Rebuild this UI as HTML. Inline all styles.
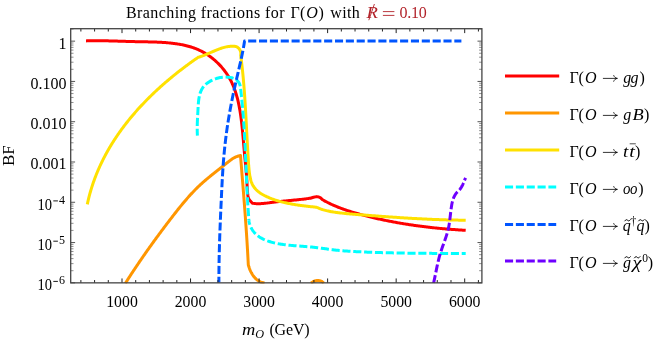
<!DOCTYPE html>
<html><head><meta charset="utf-8"><title>Branching fractions</title>
<style>html,body{margin:0;padding:0;background:#fff;}body{width:664px;height:343px;overflow:hidden;font-family:"Liberation Serif",serif;}</style></head>
<body>
<svg width="664" height="343" viewBox="0 0 664 343" style="display:block;will-change:transform">
<rect width="664" height="343" fill="#fff"/>
<defs><clipPath id="c"><rect x="70.7" y="28.7" width="411.2" height="254.75000000000003"/></clipPath></defs>
<g clip-path="url(#c)" fill="none" stroke-width="3" stroke-linejoin="round" stroke-linecap="butt">
<path d="M86.00 40.90L87.00 40.87L87.99 40.84L88.99 40.81L89.99 40.79L90.99 40.77L91.99 40.75L92.99 40.74L93.99 40.73L94.99 40.72L95.99 40.72L97.00 40.72L98.00 40.72L99.00 40.72L100.01 40.73L101.01 40.74L102.02 40.75L103.02 40.76L104.03 40.78L105.03 40.80L106.04 40.82L107.05 40.84L108.06 40.86L109.06 40.88L110.07 40.91L111.08 40.94L112.09 40.96L113.10 40.99L114.11 41.02L115.12 41.05L116.13 41.08L117.14 41.11L118.15 41.15L119.16 41.18L120.17 41.21L121.18 41.24L122.19 41.28L123.20 41.31L124.21 41.34L125.22 41.37L126.23 41.40L127.24 41.43L128.25 41.46L129.26 41.49L130.28 41.52L131.29 41.55L132.30 41.57L133.31 41.60L134.32 41.62L135.33 41.64L136.34 41.66L137.35 41.68L138.36 41.70L139.37 41.72L140.38 41.73L141.39 41.75L142.40 41.77L143.41 41.78L144.42 41.80L145.43 41.82L146.44 41.84L147.45 41.86L148.45 41.88L149.46 41.90L150.47 41.92L151.48 41.95L152.48 41.98L153.49 42.01L154.50 42.04L155.50 42.08L156.51 42.11L157.51 42.16L158.51 42.20L159.52 42.25L160.52 42.30L161.52 42.36L162.52 42.42L163.53 42.48L164.53 42.55L165.53 42.62L166.53 42.70L167.53 42.79L168.52 42.88L169.52 42.97L170.52 43.07L171.51 43.18L172.51 43.29L173.50 43.41L174.50 43.54L175.49 43.67L176.48 43.81L177.48 43.96L178.47 44.11L179.46 44.27L180.44 44.45L181.43 44.63L182.41 44.82L183.39 45.02L184.37 45.23L185.35 45.45L186.32 45.68L187.29 45.92L188.26 46.18L189.23 46.45L190.19 46.73L191.14 47.02L192.09 47.33L193.04 47.65L193.99 47.98L194.92 48.33L195.86 48.69L196.79 49.07L197.71 49.47L198.63 49.88L199.54 50.30L200.44 50.74L201.34 51.19L202.23 51.66L203.12 52.14L204.00 52.63L204.87 53.14L205.73 53.66L206.59 54.20L207.44 54.74L208.28 55.30L209.11 55.88L209.93 56.46L210.75 57.06L211.55 57.67L212.35 58.29L213.14 58.92L213.92 59.57L214.69 60.23L215.45 60.89L216.20 61.57L216.94 62.26L217.67 62.96L218.38 63.67L219.09 64.39L219.79 65.12L220.48 65.86L221.16 66.61L221.82 67.37L222.47 68.14L223.12 68.91L223.75 69.70L224.37 70.50L224.97 71.30L225.57 72.11L226.15 72.93L226.72 73.76L227.28 74.60L227.82 75.44L228.36 76.29L228.88 77.15L229.38 78.02L229.87 78.89L230.35 79.77L230.82 80.66L231.27 81.55L231.71 82.45L232.14 83.35L232.55 84.26L232.95 85.18L233.34 86.10L233.72 87.03L234.08 87.96L234.44 88.89L234.78 89.84L235.11 90.78L235.43 91.73L235.74 92.69L236.05 93.65L236.34 94.61L236.62 95.57L236.89 96.54L237.16 97.51L237.41 98.49L237.66 99.47L237.90 100.45L238.13 101.43L238.35 102.42L238.56 103.41L238.77 104.40L238.97 105.39L239.17 106.38L239.36 107.38L239.54 108.37L239.72 109.37L239.89 110.37L240.05 111.36L240.21 112.36L240.37 113.36L240.52 114.36L240.66 115.36L240.81 116.36L240.94 117.36L241.08 118.36L241.21 119.36L241.33 120.36L241.46 121.36L241.58 122.36L241.69 123.36L241.81 124.35L241.92 125.35L242.03 126.35L242.13 127.35L242.24 128.35L242.34 129.35L242.44 130.35L242.53 131.35L242.63 132.35L242.72 133.35L242.81 134.35L242.90 135.35L242.99 136.34L243.08 137.34L243.17 138.34L243.26 139.34L243.34 140.34L243.43 141.34L243.51 142.34L243.60 143.34L243.68 144.34L243.77 145.34L243.86 146.34L243.94 147.34L244.03 148.34L244.12 149.34L244.20 150.34L244.29 151.34L244.38 152.34L244.48 153.34L244.57 154.34L244.66 155.34L244.76 156.34L244.86 157.34L244.95 158.34L245.05 159.34L245.15 160.34L245.25 161.34L245.34 162.34L245.44 163.34L245.54 164.34L245.63 165.34L245.73 166.34L245.82 167.34L245.91 168.34L246.01 169.34L246.09 170.34L246.18 171.34L246.27 172.34L246.35 173.34L246.43 174.35L246.51 175.35L246.58 176.35L246.65 177.35L246.72 178.35L246.79 179.35L246.85 180.35L246.91 181.36L246.96 182.36L247.01 183.36L247.05 184.36L247.10 185.36L247.14 186.37L247.19 187.37L247.24 188.37L247.29 189.37L247.36 190.38L247.43 191.38L247.52 192.38L247.62 193.38L247.74 194.39L247.87 195.39L248.03 196.39L248.20 197.40L248.40 198.40L250.60 201.30L252.40 203.20L253.41 203.38L254.41 203.52L255.42 203.61L256.43 203.67L257.44 203.70L258.46 203.71L259.47 203.69L260.48 203.65L261.49 203.59L262.51 203.52L263.52 203.44L264.54 203.34L265.56 203.24L266.57 203.12L267.59 203.00L268.61 202.88L269.63 202.75L270.65 202.61L271.66 202.48L272.68 202.35L273.70 202.22L274.72 202.09L275.75 201.97L276.77 201.85L277.79 201.73L278.81 201.62L279.83 201.51L280.85 201.40L281.87 201.30L282.89 201.19L283.92 201.09L284.94 200.99L285.96 200.89L286.98 200.79L288.00 200.70L289.03 200.60L290.05 200.50L291.07 200.41L292.09 200.31L293.11 200.21L294.13 200.11L295.15 200.01L296.17 199.91L297.19 199.81L298.21 199.70L299.23 199.59L300.25 199.48L301.27 199.37L302.28 199.26L303.30 199.14L304.32 199.02L305.33 198.89L306.35 198.76L307.36 198.63L308.37 198.49L309.39 198.35L310.40 198.20L313.50 197.30L316.70 196.60L318.80 197.00L320.60 197.90L322.70 199.80L323.60 200.31L324.50 200.82L325.40 201.31L326.30 201.79L327.21 202.27L328.12 202.73L329.03 203.18L329.94 203.63L330.85 204.06L331.77 204.49L332.69 204.90L333.61 205.31L334.53 205.71L335.46 206.10L336.38 206.49L337.31 206.87L338.24 207.24L339.17 207.60L340.10 207.96L341.04 208.31L341.98 208.66L342.91 209.00L343.85 209.33L344.80 209.66L345.74 209.99L346.68 210.31L347.63 210.62L348.58 210.93L349.53 211.23L350.48 211.53L351.43 211.83L352.39 212.12L353.34 212.41L354.30 212.69L355.26 212.97L356.22 213.25L357.18 213.52L358.14 213.80L359.10 214.06L360.07 214.33L361.03 214.59L362.00 214.85L362.97 215.11L363.94 215.37L364.91 215.62L365.88 215.87L366.85 216.12L367.83 216.36L368.80 216.61L369.78 216.85L370.76 217.09L371.73 217.32L372.71 217.56L373.69 217.79L374.68 218.02L375.66 218.25L376.64 218.47L377.62 218.70L378.61 218.92L379.60 219.13L380.58 219.35L381.57 219.56L382.56 219.78L383.55 219.98L384.54 220.19L385.53 220.40L386.52 220.60L387.51 220.80L388.51 221.00L389.50 221.19L390.49 221.39L391.49 221.58L392.48 221.77L393.48 221.95L394.48 222.14L395.48 222.32L396.47 222.50L397.47 222.68L398.47 222.86L399.47 223.03L400.47 223.21L401.47 223.38L402.47 223.54L403.48 223.71L404.48 223.87L405.48 224.04L406.48 224.20L407.49 224.35L408.49 224.51L409.49 224.66L410.50 224.82L411.50 224.97L412.51 225.11L413.51 225.26L414.52 225.40L415.52 225.54L416.53 225.68L417.54 225.82L418.54 225.96L419.55 226.09L420.56 226.22L421.56 226.35L422.57 226.48L423.58 226.61L424.58 226.73L425.59 226.86L426.60 226.98L427.60 227.10L428.61 227.21L429.62 227.33L430.62 227.44L431.63 227.55L432.64 227.66L433.65 227.77L434.65 227.87L435.66 227.98L436.66 228.08L437.67 228.18L438.68 228.28L439.68 228.38L440.69 228.47L441.69 228.57L442.70 228.66L443.70 228.75L444.71 228.84L445.71 228.92L446.72 229.01L447.72 229.09L448.72 229.17L449.72 229.25L450.73 229.33L451.73 229.40L452.73 229.48L453.73 229.55L454.73 229.62L455.73 229.69L456.73 229.76L457.73 229.83L458.73 229.89L459.73 229.95L460.72 230.02L461.72 230.08L462.72 230.13L463.71 230.19L464.71 230.25L465.70 230.30" stroke="#ff0000"/>
<path d="M125.30 283.40L125.84 282.54L126.39 281.69L126.93 280.83L127.48 279.98L128.02 279.13L128.57 278.28L129.12 277.43L129.67 276.58L130.22 275.73L130.77 274.88L131.32 274.04L131.88 273.19L132.43 272.35L132.99 271.51L133.54 270.67L134.10 269.83L134.66 268.99L135.22 268.15L135.78 267.31L136.34 266.47L136.90 265.64L137.46 264.80L138.02 263.97L138.59 263.14L139.15 262.30L139.72 261.47L140.29 260.64L140.86 259.81L141.43 258.98L142.00 258.16L142.57 257.33L143.14 256.50L143.71 255.68L144.29 254.85L144.86 254.03L145.44 253.21L146.01 252.38L146.59 251.56L147.17 250.74L147.75 249.92L148.33 249.10L148.91 248.28L149.49 247.46L150.08 246.65L150.66 245.83L151.25 245.01L151.83 244.20L152.42 243.38L153.01 242.57L153.60 241.75L154.19 240.94L154.78 240.13L155.37 239.32L155.96 238.50L156.56 237.69L157.15 236.88L157.75 236.07L158.34 235.26L158.94 234.45L159.54 233.64L160.14 232.84L160.74 232.03L161.34 231.22L161.94 230.41L162.55 229.61L163.15 228.80L163.76 228.00L164.36 227.19L164.97 226.38L165.58 225.58L166.19 224.78L166.80 223.97L167.41 223.17L168.02 222.36L168.63 221.56L169.25 220.76L169.86 219.95L170.48 219.15L171.10 218.35L171.71 217.55L172.33 216.75L172.95 215.94L173.57 215.14L174.20 214.34L174.82 213.54L175.44 212.74L176.07 211.95L176.70 211.15L177.33 210.35L177.96 209.56L178.59 208.76L179.22 207.97L179.86 207.18L180.50 206.39L181.14 205.61L181.78 204.82L182.43 204.04L183.07 203.26L183.72 202.49L184.37 201.71L185.03 200.94L185.69 200.17L186.35 199.40L187.01 198.64L187.67 197.88L188.34 197.12L189.01 196.37L189.69 195.62L190.36 194.87L191.04 194.13L191.73 193.39L192.41 192.66L193.10 191.93L193.80 191.20L194.50 190.48L195.20 189.76L195.90 189.05L196.61 188.34L197.32 187.64L198.04 186.94L198.76 186.25L199.49 185.56L200.21 184.88L200.95 184.21L201.69 183.53L202.43 182.87L203.17 182.21L203.92 181.55L204.67 180.90L205.43 180.25L206.19 179.60L206.95 178.96L207.72 178.32L208.49 177.68L209.26 177.04L210.03 176.41L210.81 175.78L211.59 175.15L212.37 174.52L213.15 173.90L213.94 173.27L214.73 172.64L215.51 172.02L216.31 171.39L217.10 170.77L217.89 170.14L218.69 169.51L219.48 168.89L220.28 168.26L221.08 167.62L221.88 166.99L222.68 166.36L223.48 165.72L224.28 165.08L225.08 164.43L225.88 163.79L226.68 163.14L227.49 162.49L228.29 161.84L229.10 161.21L229.92 160.59L230.74 159.99L231.56 159.40L232.40 158.84L233.24 158.31L234.10 157.82L234.97 157.36L235.85 156.94L236.75 156.57L237.66 156.24L238.59 155.97L239.53 155.75L240.50 155.60L240.58 156.61L240.66 157.62L240.75 158.63L240.83 159.64L240.91 160.65L240.99 161.66L241.07 162.67L241.15 163.68L241.24 164.69L241.32 165.70L241.40 166.71L241.48 167.72L241.56 168.73L241.65 169.74L241.73 170.75L241.81 171.76L241.89 172.77L241.97 173.78L242.06 174.79L242.14 175.80L242.22 176.81L242.30 177.83L242.38 178.84L242.46 179.85L242.54 180.86L242.63 181.87L242.71 182.88L242.79 183.89L242.87 184.90L242.95 185.91L243.03 186.92L243.11 187.93L243.19 188.94L243.27 189.95L243.35 190.96L243.43 191.97L243.51 192.98L243.59 193.99L243.67 195.00L243.75 196.02L243.83 197.03L243.91 198.04L243.99 199.05L244.06 200.06L244.14 201.07L244.22 202.08L244.30 203.09L244.38 204.10L244.45 205.11L244.53 206.12L244.61 207.13L244.68 208.15L244.76 209.16L244.83 210.17L244.91 211.18L244.98 212.19L245.06 213.20L245.13 214.21L245.21 215.22L245.28 216.23L245.36 217.25L245.43 218.26L245.50 219.27L245.57 220.28L245.65 221.29L245.72 222.30L245.79 223.31L245.86 224.32L245.93 225.34L246.00 226.35L246.07 227.36L246.14 228.37L246.21 229.38L246.28 230.39L246.35 231.40L246.41 232.42L246.48 233.43L246.55 234.44L246.61 235.45L246.68 236.46L246.74 237.47L246.81 238.49L246.87 239.50L246.94 240.51L247.00 241.52L247.06 242.53L247.13 243.54L247.19 244.56L247.25 245.57L247.31 246.58L247.37 247.59L247.43 248.60L247.49 249.62L247.55 250.63L247.60 251.64L247.66 252.65L247.72 253.66L247.77 254.68L247.83 255.69L247.88 256.70L247.94 257.71L247.99 258.73L248.04 259.74L248.10 260.75L248.15 261.76L248.20 262.78L248.25 263.79L248.30 264.80L248.57 265.81L248.88 266.82L249.22 267.84L249.59 268.86L249.99 269.87L250.43 270.88L250.91 271.87L251.42 272.85L251.96 273.81L252.54 274.74L253.16 275.64L253.81 276.52L254.50 277.35L255.22 278.15L255.98 278.90L256.78 279.60L257.62 280.25L258.50 280.84L259.42 281.38L260.37 281.85L261.37 282.25L262.41 282.58L263.48 282.83L264.60 283.00" stroke="#ff9600"/>
<path d="M311.00 283.20L311.86 282.52L312.79 281.92L313.77 281.42L314.80 281.02L315.87 280.74L316.94 280.57L318.02 280.52L319.09 280.60L320.14 280.82L321.14 281.18L322.10 281.69L322.99 282.37L323.80 283.20" stroke="#ff9600"/>
<path d="M87.30 204.40L87.51 203.39L87.73 202.39L87.95 201.39L88.18 200.39L88.41 199.40L88.65 198.40L88.90 197.41L89.15 196.42L89.41 195.43L89.67 194.45L89.94 193.47L90.21 192.49L90.49 191.51L90.77 190.53L91.06 189.56L91.36 188.59L91.66 187.62L91.96 186.66L92.27 185.69L92.59 184.73L92.91 183.77L93.24 182.82L93.57 181.86L93.90 180.91L94.25 179.96L94.59 179.01L94.95 178.07L95.30 177.13L95.66 176.19L96.03 175.25L96.40 174.31L96.78 173.38L97.16 172.45L97.55 171.52L97.94 170.60L98.34 169.67L98.74 168.75L99.15 167.83L99.56 166.92L99.97 166.00L100.39 165.09L100.82 164.18L101.25 163.27L101.68 162.37L102.12 161.47L102.57 160.57L103.01 159.67L103.47 158.77L103.92 157.88L104.39 156.99L104.85 156.10L105.32 155.21L105.80 154.33L106.28 153.45L106.76 152.57L107.25 151.69L107.74 150.82L108.24 149.95L108.74 149.08L109.24 148.21L109.75 147.35L110.26 146.48L110.78 145.62L111.30 144.77L111.83 143.91L112.36 143.06L112.89 142.21L113.43 141.36L113.97 140.51L114.52 139.67L115.07 138.83L115.62 137.99L116.18 137.15L116.74 136.32L117.30 135.49L117.87 134.66L118.44 133.83L119.02 133.00L119.60 132.18L120.18 131.36L120.77 130.54L121.36 129.73L121.95 128.92L122.55 128.11L123.15 127.30L123.76 126.49L124.37 125.69L124.98 124.89L125.59 124.09L126.21 123.29L126.83 122.50L127.46 121.71L128.09 120.92L128.72 120.13L129.35 119.34L129.99 118.56L130.63 117.78L131.28 117.01L131.93 116.23L132.58 115.46L133.23 114.69L133.89 113.92L134.55 113.15L135.21 112.39L135.88 111.63L136.55 110.87L137.22 110.11L137.90 109.36L138.57 108.61L139.26 107.86L139.94 107.11L140.63 106.37L141.32 105.63L142.01 104.89L142.70 104.15L143.40 103.41L144.10 102.68L144.80 101.95L145.51 101.22L146.22 100.50L146.93 99.77L147.64 99.05L148.36 98.34L149.08 97.62L149.80 96.91L150.52 96.19L151.25 95.49L151.97 94.78L152.70 94.07L153.44 93.37L154.17 92.67L154.91 91.98L155.65 91.28L156.39 90.59L157.14 89.90L157.88 89.21L158.63 88.53L159.38 87.84L160.13 87.16L160.89 86.49L161.64 85.81L162.40 85.14L163.16 84.47L163.93 83.80L164.69 83.13L165.46 82.47L166.23 81.81L167.00 81.15L167.77 80.49L168.54 79.84L169.32 79.18L170.10 78.53L170.87 77.89L171.66 77.24L172.44 76.60L173.22 75.96L174.01 75.32L174.80 74.69L175.58 74.05L176.37 73.42L177.17 72.80L177.96 72.17L178.75 71.55L179.55 70.93L180.35 70.31L181.15 69.69L181.95 69.08L182.75 68.47L183.55 67.86L184.36 67.25L185.16 66.65L185.97 66.04L186.78 65.44L187.59 64.85L188.40 64.25L189.21 63.66L190.02 63.07L190.84 62.48L191.65 61.90L192.47 61.31L193.28 60.73L194.10 60.15L194.92 59.58L195.74 59.01L196.56 58.43L197.38 57.87L198.20 57.30L199.18 57.02L200.16 56.71L201.14 56.39L202.11 56.05L203.08 55.69L204.05 55.33L205.01 54.94L205.97 54.55L206.93 54.15L207.88 53.75L208.84 53.33L209.79 52.92L210.75 52.50L211.70 52.08L212.65 51.66L213.61 51.25L214.56 50.84L215.52 50.43L216.48 50.04L217.44 49.65L218.41 49.28L219.37 48.91L220.35 48.57L221.32 48.24L222.30 47.93L223.28 47.63L224.27 47.36L225.26 47.11L226.26 46.89L227.27 46.69L228.28 46.53L229.29 46.39L230.32 46.28L231.35 46.21L232.39 46.17L233.44 46.16L234.50 46.20L235.65 46.42L236.70 46.82L237.66 47.38L238.51 48.08L239.25 48.90L239.85 49.82L240.33 50.83L240.66 51.90L240.84 53.02L240.85 54.16L240.70 55.30L240.83 56.30L240.96 57.30L241.09 58.30L241.22 59.30L241.35 60.30L241.47 61.30L241.59 62.31L241.71 63.31L241.82 64.31L241.94 65.31L242.05 66.31L242.16 67.32L242.27 68.32L242.38 69.32L242.49 70.33L242.59 71.33L242.69 72.33L242.79 73.34L242.89 74.34L242.99 75.34L243.08 76.35L243.18 77.35L243.27 78.36L243.36 79.36L243.45 80.37L243.54 81.37L243.62 82.38L243.71 83.38L243.79 84.39L243.88 85.39L243.96 86.40L244.04 87.40L244.11 88.41L244.19 89.42L244.27 90.42L244.34 91.43L244.42 92.44L244.49 93.44L244.56 94.45L244.63 95.46L244.70 96.46L244.77 97.47L244.84 98.48L244.90 99.48L244.97 100.49L245.03 101.50L245.10 102.50L245.16 103.51L245.22 104.52L245.28 105.53L245.34 106.54L245.40 107.54L245.46 108.55L245.52 109.56L245.58 110.57L245.64 111.57L245.70 112.58L245.75 113.59L245.81 114.60L245.86 115.61L245.92 116.61L245.97 117.62L246.03 118.63L246.08 119.64L246.14 120.65L246.19 121.66L246.24 122.66L246.30 123.67L246.35 124.68L246.40 125.69L246.45 126.70L246.51 127.71L246.56 128.72L246.61 129.72L246.66 130.73L246.71 131.74L246.77 132.75L246.82 133.76L246.87 134.77L246.92 135.77L246.98 136.78L247.03 137.79L247.08 138.80L247.13 139.81L247.19 140.82L247.24 141.82L247.30 142.83L247.35 143.84L247.41 144.85L247.46 145.86L247.52 146.86L247.57 147.87L247.63 148.88L247.69 149.89L247.74 150.89L247.80 151.90L247.86 152.91L247.92 153.92L247.98 154.92L248.04 155.93L248.11 156.94L248.17 157.95L248.23 158.95L248.30 159.96L248.36 160.97L248.43 161.97L248.49 162.98L248.56 163.99L248.63 164.99L248.70 166.00L248.80 166.92L248.89 167.87L248.99 168.85L249.08 169.85L249.18 170.87L249.29 171.90L249.41 172.94L249.54 173.99L249.69 175.05L249.86 176.10L250.05 177.15L250.27 178.20L250.52 179.24L250.79 180.26L251.10 181.26L251.44 182.25L251.82 183.21L252.23 184.14L252.68 185.04L253.18 185.91L253.71 186.74L254.29 187.54L254.90 188.31L255.54 189.04L256.22 189.75L256.92 190.43L257.66 191.08L258.42 191.71L259.21 192.31L260.02 192.89L260.85 193.45L261.69 193.98L262.56 194.50L263.44 194.99L264.33 195.47L265.24 195.93L266.15 196.38L267.07 196.81L267.99 197.23L268.93 197.64L269.86 198.03L270.81 198.41L271.75 198.78L272.71 199.14L273.66 199.48L274.62 199.82L275.59 200.14L276.56 200.45L277.53 200.75L278.51 201.04L279.49 201.32L280.48 201.60L281.47 201.86L282.46 202.11L283.45 202.36L284.45 202.59L285.45 202.82L286.45 203.04L287.46 203.25L288.46 203.46L289.47 203.65L290.48 203.84L291.49 204.03L292.51 204.20L293.52 204.38L294.53 204.54L295.55 204.70L296.56 204.86L297.58 205.01L298.60 205.15L299.61 205.29L300.63 205.43L301.64 205.57L302.66 205.69L303.67 205.82L304.68 205.95L305.70 206.07L306.71 206.18L307.72 206.30L308.72 206.42L309.73 206.53L310.73 206.64L311.73 206.75L312.73 206.86L313.73 206.97L314.72 207.08L315.71 207.19L316.70 207.30L317.66 207.74L318.63 208.15L319.59 208.54L320.56 208.91L321.53 209.25L322.49 209.57L323.46 209.87L324.43 210.15L325.41 210.41L326.38 210.65L327.35 210.88L328.33 211.09L329.30 211.29L330.28 211.48L331.26 211.66L332.23 211.82L333.21 211.98L334.19 212.13L335.18 212.27L336.16 212.40L337.14 212.53L338.12 212.66L339.11 212.78L340.09 212.90L341.08 213.02L342.07 213.13L343.05 213.24L344.04 213.34L345.03 213.44L346.02 213.54L347.01 213.64L348.00 213.73L349.00 213.82L349.99 213.91L350.98 214.00L351.98 214.08L352.97 214.17L353.97 214.25L354.96 214.33L355.96 214.41L356.96 214.49L357.95 214.57L358.95 214.64L359.95 214.72L360.95 214.80L361.95 214.87L362.95 214.95L363.95 215.03L364.95 215.10L365.96 215.18L366.96 215.26L367.96 215.33L368.96 215.41L369.97 215.49L370.97 215.56L371.98 215.64L372.98 215.71L373.99 215.79L374.99 215.86L376.00 215.94L377.01 216.01L378.01 216.09L379.02 216.16L380.03 216.23L381.04 216.31L382.04 216.38L383.05 216.45L384.06 216.53L385.07 216.60L386.08 216.67L387.09 216.74L388.10 216.81L389.11 216.88L390.12 216.95L391.13 217.02L392.14 217.09L393.15 217.16L394.16 217.23L395.17 217.30L396.18 217.37L397.19 217.43L398.21 217.50L399.22 217.57L400.23 217.63L401.24 217.70L402.25 217.76L403.26 217.83L404.28 217.89L405.29 217.95L406.30 218.01L407.31 218.08L408.33 218.14L409.34 218.20L410.35 218.26L411.36 218.32L412.37 218.38L413.39 218.43L414.40 218.49L415.41 218.55L416.42 218.60L417.43 218.66L418.45 218.71L419.46 218.76L420.47 218.82L421.48 218.87L422.49 218.92L423.50 218.97L424.51 219.02L425.53 219.07L426.54 219.12L427.55 219.16L428.56 219.21L429.57 219.26L430.58 219.30L431.59 219.34L432.60 219.39L433.61 219.43L434.61 219.47L435.62 219.51L436.63 219.55L437.64 219.58L438.65 219.62L439.65 219.66L440.66 219.69L441.67 219.73L442.67 219.76L443.68 219.79L444.69 219.82L445.69 219.85L446.70 219.88L447.70 219.91L448.70 219.93L449.71 219.96L450.71 219.98L451.71 220.01L452.72 220.03L453.72 220.05L454.72 220.07L455.72 220.09L456.72 220.10L457.72 220.12L458.72 220.13L459.72 220.15L460.72 220.16L461.72 220.17L462.71 220.18L463.71 220.19L464.70 220.19L465.70 220.20" stroke="#ffe100"/>
<path d="M197.40 135.60L197.35 134.54L197.31 133.49L197.27 132.45L197.25 131.43L197.23 130.41L197.22 129.40L197.22 128.39L197.23 127.39L197.24 126.40L197.25 125.41L197.28 124.43L197.30 123.45L197.34 122.47L197.37 121.50L197.41 120.52L197.46 119.55L197.50 118.57L197.55 117.59L197.60 116.61L197.66 115.63L197.71 114.64L197.77 113.65L197.82 112.65L197.88 111.65L197.93 110.64L197.99 109.62L198.04 108.59L198.09 107.56L198.15 106.52L198.21 105.47L198.28 104.43L198.36 103.38L198.45 102.34L198.55 101.30L198.67 100.26L198.81 99.23L198.96 98.21L199.14 97.19L199.34 96.19L199.57 95.21L199.83 94.23L200.11 93.28L200.43 92.34L200.79 91.42L201.18 90.53L201.61 89.65L202.08 88.81L202.60 87.99L203.16 87.20L203.76 86.43L204.41 85.70L205.09 85.00L205.82 84.33L206.57 83.68L207.36 83.07L208.18 82.48L209.02 81.93L209.88 81.40L210.77 80.90L211.67 80.44L212.59 80.00L213.52 79.59L214.46 79.21L215.40 78.87L216.35 78.55L217.30 78.26L218.27 78.00L219.23 77.77L220.21 77.58L221.20 77.42L222.20 77.29L223.21 77.19L224.23 77.13L225.26 77.11L226.31 77.12L227.38 77.17L228.45 77.25L229.53 77.38L230.60 77.56L231.65 77.79L232.67 78.07L233.66 78.41L234.60 78.81L235.50 79.28L236.33 79.82L237.09 80.43L237.78 81.10L238.39 81.84L238.92 82.64L239.37 83.48L239.74 84.36L240.02 85.27L240.23 86.21L240.40 87.18L240.53 88.15L240.65 89.13L240.76 90.11L240.88 91.09L240.99 92.08L241.10 93.06L241.21 94.05L241.32 95.03L241.42 96.02L241.53 97.01L241.63 98.00L241.73 99.00L241.83 99.99L241.93 100.98L242.02 101.98L242.12 102.97L242.21 103.97L242.30 104.97L242.39 105.97L242.48 106.97L242.57 107.97L242.65 108.97L242.74 109.97L242.82 110.97L242.90 111.97L242.98 112.98L243.06 113.98L243.14 114.99L243.22 115.99L243.29 117.00L243.36 118.01L243.44 119.01L243.51 120.02L243.58 121.03L243.65 122.04L243.72 123.04L243.79 124.05L243.85 125.06L243.92 126.07L243.98 127.08L244.04 128.09L244.11 129.10L244.17 130.11L244.23 131.12L244.29 132.13L244.35 133.14L244.41 134.15L244.46 135.16L244.52 136.17L244.58 137.18L244.63 138.19L244.68 139.20L244.74 140.21L244.79 141.22L244.84 142.23L244.90 143.24L244.95 144.25L245.00 145.26L245.05 146.27L245.10 147.27L245.15 148.28L245.19 149.29L245.24 150.29L245.29 151.30L245.34 152.30L245.39 153.31L245.43 154.31L245.48 155.32L245.52 156.32L245.57 157.33L245.62 158.33L245.66 159.33L245.71 160.34L245.75 161.34L245.79 162.34L245.84 163.34L245.88 164.35L245.93 165.35L245.97 166.35L246.02 167.35L246.06 168.35L246.10 169.35L246.15 170.35L246.19 171.35L246.24 172.36L246.28 173.36L246.33 174.36L246.37 175.36L246.42 176.36L246.46 177.36L246.51 178.36L246.55 179.36L246.60 180.36L246.64 181.36L246.69 182.36L246.73 183.36L246.78 184.36L246.83 185.36L246.88 186.36L246.92 187.36L246.97 188.36L247.02 189.36L247.07 190.36L247.12 191.36L247.17 192.36L247.22 193.36L247.28 194.37L247.33 195.37L247.38 196.37L247.43 197.37L247.49 198.37L247.54 199.37L247.60 200.38L247.66 201.38L247.71 202.38L247.77 203.39L247.83 204.39L247.89 205.39L247.95 206.40L248.01 207.40L248.07 208.41L248.14 209.41L248.20 210.42L248.27 211.43L248.33 212.43L248.40 213.44L248.47 214.45L248.54 215.45L248.61 216.46L248.68 217.47L248.75 218.48L248.82 219.49L248.90 220.50" stroke="#00ffff" stroke-dasharray="8.1 2.75" stroke-dashoffset="1.2"/>
<path d="M248.90 220.50L249.07 221.58L249.28 222.63L249.54 223.65L249.83 224.65L250.18 225.62L250.56 226.56L250.98 227.48L251.43 228.37L251.93 229.23L252.46 230.06L253.02 230.87L253.61 231.65L254.24 232.40L254.89 233.12L255.58 233.82L256.29 234.49L257.02 235.13L257.78 235.74L258.56 236.33L259.37 236.89L260.19 237.42L261.04 237.93L261.90 238.41L262.78 238.87L263.67 239.31L264.58 239.72L265.50 240.12L266.43 240.49L267.37 240.85L268.32 241.18L269.28 241.50L270.24 241.80L271.21 242.09L272.18 242.36L273.15 242.61L274.13 242.85L275.10 243.08L276.08 243.29L277.06 243.50L278.04 243.69L279.03 243.87L280.01 244.04L280.99 244.20L281.98 244.35L282.97 244.49L283.96 244.62L284.95 244.75L285.94 244.87L286.94 244.98L287.93 245.09L288.93 245.19L289.92 245.29L290.92 245.38L291.92 245.47L292.92 245.56L293.92 245.64L294.92 245.72L295.92 245.80L296.92 245.88L297.92 245.96L298.93 246.03L299.93 246.11L300.94 246.19L301.94 246.26L302.95 246.34L303.95 246.41L304.96 246.49L305.97 246.57L306.97 246.65L307.98 246.74L308.99 246.83L309.99 246.91L311.00 247.01L312.01 247.10L313.02 247.20L314.02 247.31L315.03 247.42L316.04 247.53L317.04 247.65L318.05 247.78L319.06 247.90L320.06 248.04L321.07 248.17L322.07 248.31L323.08 248.44L324.09 248.58L325.09 248.72L326.10 248.86L327.10 249.00L328.11 249.14L329.11 249.28L330.11 249.41L331.12 249.54L332.12 249.67L333.13 249.80L334.13 249.92L335.14 250.04L336.14 250.15L337.14 250.25L338.15 250.36L339.15 250.46L340.15 250.55L341.16 250.64L342.16 250.73L343.16 250.81L344.16 250.89L345.17 250.97L346.17 251.04L347.17 251.11L348.17 251.18L349.18 251.24L350.18 251.30L351.18 251.36L352.18 251.42L353.19 251.48L354.19 251.53L355.19 251.58L356.19 251.63L357.19 251.68L358.19 251.73L359.20 251.78L360.20 251.83L361.20 251.87L362.20 251.92L363.20 251.96L364.20 252.00L365.20 252.05L366.21 252.09L367.21 252.13L368.21 252.17L369.21 252.20L370.21 252.24L371.21 252.28L372.21 252.31L373.21 252.35L374.22 252.38L375.22 252.42L376.22 252.45L377.22 252.48L378.22 252.51L379.22 252.54L380.22 252.57L381.22 252.60L382.22 252.63L383.23 252.66L384.23 252.68L385.23 252.71L386.23 252.74L387.23 252.76L388.23 252.78L389.23 252.81L390.24 252.83L391.24 252.85L392.24 252.87L393.24 252.90L394.24 252.92L395.24 252.94L396.24 252.96L397.25 252.97L398.25 252.99L399.25 253.01L400.25 253.03L401.25 253.04L402.26 253.06L403.26 253.08L404.26 253.09L405.26 253.11L406.27 253.12L407.27 253.13L408.27 253.15L409.28 253.16L410.28 253.17L411.28 253.19L412.28 253.20L413.29 253.21L414.29 253.22L415.29 253.23L416.30 253.24L417.30 253.25L418.31 253.26L419.31 253.27L420.31 253.28L421.32 253.29L422.32 253.30L423.33 253.31L424.33 253.32L425.34 253.33L426.34 253.33L427.35 253.34L428.35 253.35L429.36 253.36L430.36 253.36L431.37 253.37L432.38 253.38L433.38 253.38L434.39 253.39L435.40 253.40L436.40 253.40L437.41 253.41L438.42 253.42L439.43 253.42L440.43 253.43L441.44 253.44L442.45 253.44L443.46 253.45L444.47 253.45L445.47 253.46L446.48 253.47L447.49 253.47L448.50 253.48L449.51 253.48L450.52 253.49L451.53 253.50L452.54 253.50L453.55 253.51L454.56 253.52L455.57 253.52L456.59 253.53L457.60 253.54L458.61 253.54L459.62 253.55L460.63 253.56L461.65 253.57L462.66 253.57L463.67 253.58L464.69 253.59L465.70 253.60" stroke="#00ffff" stroke-dasharray="8.1 2.75" stroke-dashoffset="3.64"/>
<path d="M218.90 282.60L218.90 281.59L218.90 280.58L218.90 279.57L218.90 278.56L218.91 277.55L218.91 276.55L218.92 275.54L218.92 274.53L218.93 273.52L218.94 272.51L218.94 271.50L218.95 270.49L218.97 269.48L218.98 268.47L218.99 267.46L219.00 266.46L219.02 265.45L219.03 264.44L219.05 263.43L219.06 262.42L219.08 261.41L219.10 260.40L219.12 259.39L219.14 258.39L219.16 257.38L219.18 256.37L219.20 255.36L219.23 254.35L219.25 253.34L219.27 252.33L219.30 251.32L219.33 250.32L219.35 249.31L219.38 248.30L219.41 247.29L219.44 246.28L219.46 245.27L219.49 244.27L219.52 243.26L219.56 242.25L219.59 241.24L219.62 240.23L219.65 239.23L219.69 238.22L219.72 237.21L219.75 236.20L219.79 235.19L219.82 234.19L219.86 233.18L219.90 232.17L219.93 231.16L219.97 230.16L220.01 229.15L220.05 228.14L220.09 227.13L220.13 226.13L220.17 225.12L220.21 224.11L220.25 223.10L220.29 222.10L220.33 221.09L220.37 220.08L220.41 219.08L220.46 218.07L220.50 217.06L220.54 216.06L220.59 215.05L220.63 214.04L220.67 213.04L220.72 212.03L220.76 211.02L220.81 210.02L220.85 209.01L220.90 208.00L220.94 207.00L220.99 205.99L221.04 204.99L221.08 203.98L221.13 202.97L221.18 201.97L221.22 200.96L221.27 199.96L221.32 198.95L221.36 197.95L221.41 196.94L221.46 195.94L221.51 194.93L221.56 193.93L221.60 192.92L221.65 191.92L221.70 190.91L221.75 189.91L221.80 188.90L221.85 187.90L221.90 186.89L221.94 185.89L221.99 184.89L222.05 183.88L222.10 182.88L222.15 181.87L222.20 180.87L222.25 179.87L222.31 178.86L222.36 177.86L222.42 176.86L222.48 175.85L222.54 174.85L222.60 173.85L222.66 172.85L222.72 171.84L222.78 170.84L222.84 169.84L222.91 168.84L222.98 167.83L223.05 166.83L223.12 165.83L223.19 164.83L223.26 163.83L223.34 162.82L223.42 161.82L223.49 160.82L223.57 159.82L223.66 158.82L223.74 157.82L223.83 156.82L223.91 155.82L224.00 154.82L224.09 153.82L224.19 152.82L224.28 151.82L224.38 150.82L224.48 149.82L224.58 148.82L224.68 147.82L224.79 146.82L224.89 145.82L225.00 144.82L225.11 143.82L225.22 142.82L225.34 141.82L225.45 140.82L225.57 139.82L225.69 138.83L225.82 137.83L225.94 136.83L226.07 135.83L226.20 134.83L226.33 133.84L226.46 132.84L226.59 131.84L226.73 130.85L226.87 129.85L227.01 128.85L227.16 127.85L227.30 126.86L227.45 125.86L227.60 124.87L227.75 123.87L227.91 122.87L228.06 121.88L228.22 120.88L228.38 119.89L228.54 118.89L228.71 117.90L228.88 116.90L229.05 115.91L229.22 114.91L229.39 113.92L229.56 112.93L229.74 111.93L229.92 110.94L230.10 109.94L230.28 108.95L230.47 107.96L230.66 106.96L230.84 105.97L231.03 104.98L231.23 103.99L231.42 102.99L231.61 102.00L231.81 101.01L232.01 100.02L232.21 99.03L232.41 98.04L232.61 97.04L232.82 96.05L233.03 95.06L233.23 94.07L233.44 93.08L233.65 92.09L233.87 91.10L234.08 90.11L234.29 89.12L234.51 88.13L234.73 87.14L234.95 86.16L235.17 85.17L235.39 84.18L235.61 83.19L235.83 82.20L236.06 81.21L236.28 80.23L236.51 79.24L236.74 78.25L236.97 77.26L237.20 76.28L237.43 75.29L237.66 74.30L237.89 73.32L238.12 72.33L238.35 71.35L238.58 70.36L238.81 69.37L239.04 68.39L239.26 67.40L239.49 66.42L239.72 65.44L239.94 64.45L240.17 63.47L240.39 62.48L240.61 61.50L240.83 60.52L241.05 59.53L241.26 58.55L241.47 57.57L241.68 56.59L241.89 55.60L242.10 54.62L242.30 53.64L242.50 52.66L242.69 51.68L242.89 50.70L243.08 49.72L243.26 48.74L243.44 47.75L243.62 46.77L243.80 45.80L243.97 44.82L244.13 43.84L244.29 42.86L244.45 41.88L244.60 40.90L300.00 40.90L461.40 40.90" stroke="#0055ff" stroke-dasharray="8.1 2.75" stroke-dashoffset="2.2"/>
<path d="M433.60 283.00L433.83 281.97L434.06 280.94L434.28 279.91L434.50 278.89L434.71 277.87L434.92 276.86L435.13 275.85L435.34 274.84L435.54 273.84L435.74 272.84L435.95 271.84L436.15 270.85L436.35 269.86L436.55 268.87L436.76 267.89L436.96 266.90L437.17 265.92L437.39 264.95L437.60 263.97L437.82 263.00L438.04 262.02L438.27 261.05L438.51 260.08L438.75 259.11L438.99 258.15L439.25 257.18L439.51 256.22L439.78 255.25L440.06 254.29L440.34 253.32L440.64 252.36L440.95 251.40L441.26 250.44L441.59 249.47L441.92 248.51L442.26 247.54L442.60 246.58L442.94 245.61L443.29 244.65L443.64 243.68L443.99 242.71L444.34 241.74L444.69 240.77L445.03 239.80L445.37 238.82L445.70 237.85L446.03 236.87L446.35 235.89L446.66 234.90L446.96 233.92L447.25 232.93L447.53 231.94L447.79 230.94L448.04 229.95L448.28 228.95L448.49 227.94L448.70 226.94L448.89 225.93L449.06 224.91L449.23 223.90L449.39 222.89L449.53 221.87L449.67 220.85L449.80 219.84L449.93 218.82L450.05 217.80L450.17 216.78L450.29 215.76L450.40 214.75L450.52 213.73L450.64 212.72L450.75 211.71L450.88 210.70L451.00 209.69L451.14 208.69L451.28 207.69L451.42 206.69L451.58 205.69L451.75 204.70L451.93 203.72L452.14 202.75L452.36 201.78L452.61 200.82L452.89 199.88L453.20 198.94L453.55 198.03L453.93 197.12L454.36 196.23L454.83 195.37L455.35 194.52L455.92 193.69L456.55 192.88L457.24 192.09L457.99 191.33L458.80 190.60L459.58 189.77L460.28 188.89L460.92 187.98L461.50 187.02L462.04 186.04L462.53 185.04L463.00 184.02L463.44 182.98L463.86 181.94L464.29 180.89L464.71 179.85L465.14 178.82L465.60 177.80" stroke="#6e00ff" stroke-dasharray="8.1 2.75"/>
</g>
<g fill="none">
<path d="M80.88 282.85v-2.8M80.88 28.7v2.8M94.58 282.85v-2.8M94.58 28.7v2.8M108.29 282.85v-2.8M108.29 28.7v2.8M122.00 282.85v-4.4M122.00 28.7v4.4M135.71 282.85v-2.8M135.71 28.7v2.8M149.42 282.85v-2.8M149.42 28.7v2.8M163.12 282.85v-2.8M163.12 28.7v2.8M176.83 282.85v-2.8M176.83 28.7v2.8M190.54 282.85v-4.4M190.54 28.7v4.4M204.25 282.85v-2.8M204.25 28.7v2.8M217.96 282.85v-2.8M217.96 28.7v2.8M231.66 282.85v-2.8M231.66 28.7v2.8M245.37 282.85v-2.8M245.37 28.7v2.8M259.08 282.85v-4.4M259.08 28.7v4.4M272.79 282.85v-2.8M272.79 28.7v2.8M286.50 282.85v-2.8M286.50 28.7v2.8M300.20 282.85v-2.8M300.20 28.7v2.8M313.91 282.85v-2.8M313.91 28.7v2.8M327.62 282.85v-4.4M327.62 28.7v4.4M341.33 282.85v-2.8M341.33 28.7v2.8M355.04 282.85v-2.8M355.04 28.7v2.8M368.74 282.85v-2.8M368.74 28.7v2.8M382.45 282.85v-2.8M382.45 28.7v2.8M396.16 282.85v-4.4M396.16 28.7v4.4M409.87 282.85v-2.8M409.87 28.7v2.8M423.58 282.85v-2.8M423.58 28.7v2.8M437.28 282.85v-2.8M437.28 28.7v2.8M450.99 282.85v-2.8M450.99 28.7v2.8M464.70 282.85v-4.4M464.70 28.7v4.4M478.41 282.85v-2.8M478.41 28.7v2.8" stroke="#222" stroke-width="1"/>
<path d="M70.7 282.83h4.4M481.9 282.83h-4.4M70.7 242.55h4.4M481.9 242.55h-4.4M70.7 202.27h4.4M481.9 202.27h-4.4M70.7 161.99h4.4M481.9 161.99h-4.4M70.7 121.71h4.4M481.9 121.71h-4.4M70.7 81.43h4.4M481.9 81.43h-4.4M70.7 41.15h4.4M481.9 41.15h-4.4" stroke="#2a2a2a" stroke-width="0.8"/>
<path d="M70.7 270.70h2.8M481.9 270.70h-2.8M70.7 263.61h2.8M481.9 263.61h-2.8M70.7 258.58h2.8M481.9 258.58h-2.8M70.7 254.68h2.8M481.9 254.68h-2.8M70.7 251.49h2.8M481.9 251.49h-2.8M70.7 248.79h2.8M481.9 248.79h-2.8M70.7 246.45h2.8M481.9 246.45h-2.8M70.7 244.39h2.8M481.9 244.39h-2.8M70.7 230.42h2.8M481.9 230.42h-2.8M70.7 223.33h2.8M481.9 223.33h-2.8M70.7 218.30h2.8M481.9 218.30h-2.8M70.7 214.40h2.8M481.9 214.40h-2.8M70.7 211.21h2.8M481.9 211.21h-2.8M70.7 208.51h2.8M481.9 208.51h-2.8M70.7 206.17h2.8M481.9 206.17h-2.8M70.7 204.11h2.8M481.9 204.11h-2.8M70.7 190.14h2.8M481.9 190.14h-2.8M70.7 183.05h2.8M481.9 183.05h-2.8M70.7 178.02h2.8M481.9 178.02h-2.8M70.7 174.12h2.8M481.9 174.12h-2.8M70.7 170.93h2.8M481.9 170.93h-2.8M70.7 168.23h2.8M481.9 168.23h-2.8M70.7 165.89h2.8M481.9 165.89h-2.8M70.7 163.83h2.8M481.9 163.83h-2.8M70.7 149.86h2.8M481.9 149.86h-2.8M70.7 142.77h2.8M481.9 142.77h-2.8M70.7 137.74h2.8M481.9 137.74h-2.8M70.7 133.84h2.8M481.9 133.84h-2.8M70.7 130.65h2.8M481.9 130.65h-2.8M70.7 127.95h2.8M481.9 127.95h-2.8M70.7 125.61h2.8M481.9 125.61h-2.8M70.7 123.55h2.8M481.9 123.55h-2.8M70.7 109.58h2.8M481.9 109.58h-2.8M70.7 102.49h2.8M481.9 102.49h-2.8M70.7 97.46h2.8M481.9 97.46h-2.8M70.7 93.56h2.8M481.9 93.56h-2.8M70.7 90.37h2.8M481.9 90.37h-2.8M70.7 87.67h2.8M481.9 87.67h-2.8M70.7 85.33h2.8M481.9 85.33h-2.8M70.7 83.27h2.8M481.9 83.27h-2.8M70.7 69.30h2.8M481.9 69.30h-2.8M70.7 62.21h2.8M481.9 62.21h-2.8M70.7 57.18h2.8M481.9 57.18h-2.8M70.7 53.28h2.8M481.9 53.28h-2.8M70.7 50.09h2.8M481.9 50.09h-2.8M70.7 47.39h2.8M481.9 47.39h-2.8M70.7 45.05h2.8M481.9 45.05h-2.8M70.7 42.99h2.8M481.9 42.99h-2.8M70.7 29.02h2.8M481.9 29.02h-2.8" stroke="#444" stroke-width="0.6"/>
<rect x="70.7" y="28.7" width="411.20" height="254.15" stroke="#444" stroke-width="1.3"/>
</g>
<g font-family="'Liberation Serif', serif" font-size="16" fill="#000">
<text x="122.0" y="306.7" text-anchor="middle" textLength="31.6" lengthAdjust="spacingAndGlyphs">1000</text>
<text x="190.5" y="306.7" text-anchor="middle" textLength="31.6" lengthAdjust="spacingAndGlyphs">2000</text>
<text x="259.1" y="306.7" text-anchor="middle" textLength="31.6" lengthAdjust="spacingAndGlyphs">3000</text>
<text x="327.6" y="306.7" text-anchor="middle" textLength="31.6" lengthAdjust="spacingAndGlyphs">4000</text>
<text x="396.2" y="306.7" text-anchor="middle" textLength="31.6" lengthAdjust="spacingAndGlyphs">5000</text>
<text x="464.7" y="306.7" text-anchor="middle" textLength="31.6" lengthAdjust="spacingAndGlyphs">6000</text>
<text x="66.6" y="48.5" text-anchor="end">1</text>
<text x="66.6" y="88.8" text-anchor="end">0.100</text>
<text x="66.6" y="129.1" text-anchor="end">0.010</text>
<text x="66.6" y="169.4" text-anchor="end">0.001</text>
<text x="37.5" y="209.7" textLength="14.6" lengthAdjust="spacingAndGlyphs">10</text>
<path d="M53.3 200.9H57.9" stroke="#000" stroke-width="0.9"/><text x="58.9" y="203.6" font-size="12">4</text>
<text x="37.5" y="250.0" textLength="14.6" lengthAdjust="spacingAndGlyphs">10</text>
<path d="M53.3 241.2H57.9" stroke="#000" stroke-width="0.9"/><text x="58.9" y="243.9" font-size="12">5</text>
<text x="37.5" y="290.2" textLength="14.6" lengthAdjust="spacingAndGlyphs">10</text>
<path d="M53.3 281.4H57.9" stroke="#000" stroke-width="0.9"/><text x="58.9" y="284.1" font-size="12">6</text>
<text transform="translate(14.4 155.6) rotate(-90)" text-anchor="middle" font-size="16" textLength="20.8" lengthAdjust="spacingAndGlyphs">BF</text>
<text x="242" y="334.7" font-style="italic" textLength="13.3" lengthAdjust="spacingAndGlyphs">m</text><text x="255.3" y="337.5" font-style="italic" font-size="12.2">O</text><text x="269.4" y="334.7" textLength="40.2" lengthAdjust="spacing">(GeV)</text>
<text x="126" y="18" textLength="158.5" lengthAdjust="spacing">Branching fractions for</text>
<text x="290.6" y="18">Γ</text><text x="300.0" y="18">(</text><text x="306.2" y="18" font-style="italic">O</text><text x="318.4" y="18">)</text>
<text x="330.2" y="18" textLength="29.6" lengthAdjust="spacing">with</text>
<g fill="#b2232a" stroke="#b2232a" stroke-width="0"><text x="366.6" y="18" font-style="italic" textLength="11.4" lengthAdjust="spacingAndGlyphs">R</text><path d="M374.4 4.0L368.8 20.2" stroke-width="0.9" fill="none"/><path d="M382.9 11.6H394.4M382.9 15.4H394.4" stroke-width="0.9" fill="none"/><text x="399.4" y="18" textLength="27.4" lengthAdjust="spacing">0.10</text></g>
<path d="M505 76.1H559.2" stroke="#ff0000" stroke-width="3"/>
<text x="569.6" y="82.5">Γ</text><text x="578.6" y="82.5">(</text><text x="585.0" y="82.5" font-style="italic">O</text>
<path d="M603.3 78.4H617.0M613.6999999999999 75.5C614.3 77.2 615.6999999999999 78.10000000000001 617.3 78.4C615.6999999999999 78.7 614.3 79.60000000000001 613.6999999999999 81.30000000000001" stroke="#000" stroke-width="0.8" fill="none" stroke-linecap="round"/>
<text x="623.2" y="82.5" font-style="italic" textLength="15.4">gg</text><text x="639.6" y="82.5">)</text>
<path d="M505 113.1H559.2" stroke="#ff9600" stroke-width="3"/>
<text x="569.6" y="119.5">Γ</text><text x="578.6" y="119.5">(</text><text x="585.0" y="119.5" font-style="italic">O</text>
<path d="M603.3 115.4H617.0M613.6999999999999 112.5C614.3 114.2 615.6999999999999 115.10000000000001 617.3 115.4C615.6999999999999 115.7 614.3 116.60000000000001 613.6999999999999 118.30000000000001" stroke="#000" stroke-width="0.8" fill="none" stroke-linecap="round"/>
<text x="623.2" y="119.5" font-style="italic">g</text><text x="632.4" y="119.5" font-style="italic" textLength="11.2" lengthAdjust="spacingAndGlyphs">B</text><text x="644.0" y="119.5">)</text>
<path d="M505 150.1H559.2" stroke="#ffe100" stroke-width="3"/>
<text x="569.6" y="156.5">Γ</text><text x="578.6" y="156.5">(</text><text x="585.0" y="156.5" font-style="italic">O</text>
<path d="M603.3 152.4H617.0M613.6999999999999 149.5C614.3 151.20000000000002 615.6999999999999 152.1 617.3 152.4C615.6999999999999 152.70000000000002 614.3 153.6 613.6999999999999 155.3" stroke="#000" stroke-width="0.8" fill="none" stroke-linecap="round"/>
<text x="623.0" y="156.5" font-style="italic" textLength="5.3" lengthAdjust="spacingAndGlyphs">t</text><text x="629.2" y="156.5" font-style="italic" textLength="5.6" lengthAdjust="spacingAndGlyphs">t</text><path d="M629.7 143.8H635.8" stroke="#000" stroke-width="0.7"/><text x="635.0" y="156.5">)</text>
<path d="M505 187.0H556.2" stroke="#00ffff" stroke-width="3" stroke-dasharray="8.1 2.75"/>
<text x="569.6" y="193.5">Γ</text><text x="578.6" y="193.5">(</text><text x="585.0" y="193.5" font-style="italic">O</text>
<path d="M603.3 189.4H617.0M613.6999999999999 186.5C614.3 188.20000000000002 615.6999999999999 189.1 617.3 189.4C615.6999999999999 189.70000000000002 614.3 190.6 613.6999999999999 192.3" stroke="#000" stroke-width="0.8" fill="none" stroke-linecap="round"/>
<text x="622.9" y="193.5" font-style="italic" textLength="7.4" lengthAdjust="spacingAndGlyphs">o</text><text x="630.1" y="193.5" font-style="italic" textLength="7.4" lengthAdjust="spacingAndGlyphs">o</text><text x="638.2" y="193.5">)</text>
<path d="M505 224.5H556.2" stroke="#0055ff" stroke-width="3" stroke-dasharray="8.1 2.75"/>
<text x="569.6" y="230.5">Γ</text><text x="578.6" y="230.5">(</text><text x="585.0" y="230.5" font-style="italic">O</text>
<path d="M603.3 226.4H617.0M613.6999999999999 223.5C614.3 225.20000000000002 615.6999999999999 226.1 617.3 226.4C615.6999999999999 226.70000000000002 614.3 227.6 613.6999999999999 229.3" stroke="#000" stroke-width="0.8" fill="none" stroke-linecap="round"/>
<text x="622.8" y="230.5" font-style="italic">q</text><path d="M624.8 220.9c1.12 -1.5 1.96 -1.5 2.80 -0.6c0.84 0.9 1.68 0.9 2.80 -0.6" stroke="#000" stroke-width="1.0" fill="none" stroke-linecap="round"/><text x="630.6" y="224.9" font-size="11.5">†</text><text x="636.5" y="230.5" font-style="italic">q</text><path d="M638.6 220.9c1.12 -1.5 1.96 -1.5 2.80 -0.6c0.84 0.9 1.68 0.9 2.80 -0.6" stroke="#000" stroke-width="1.0" fill="none" stroke-linecap="round"/><text x="644.4" y="230.5">)</text>
<path d="M505 261.1H556.2" stroke="#6e00ff" stroke-width="3" stroke-dasharray="8.1 2.75"/>
<text x="569.6" y="267.5">Γ</text><text x="578.6" y="267.5">(</text><text x="585.0" y="267.5" font-style="italic">O</text>
<path d="M603.3 263.4H617.0M613.6999999999999 260.5C614.3 262.2 615.6999999999999 263.09999999999997 617.3 263.4C615.6999999999999 263.7 614.3 264.59999999999997 613.6999999999999 266.29999999999995" stroke="#000" stroke-width="0.8" fill="none" stroke-linecap="round"/>
<text x="623.0" y="267.5" font-style="italic">g</text><path d="M624.8 257.9c1.12 -1.5 1.96 -1.5 2.80 -0.6c0.84 0.9 1.68 0.9 2.80 -0.6" stroke="#000" stroke-width="1.0" fill="none" stroke-linecap="round"/><text x="632.6" y="267.5" font-style="italic" textLength="9" lengthAdjust="spacingAndGlyphs">χ</text><path d="M634.4 257.9c1.12 -1.5 1.96 -1.5 2.80 -0.6c0.84 0.9 1.68 0.9 2.80 -0.6" stroke="#000" stroke-width="1.0" fill="none" stroke-linecap="round"/><text x="642.3" y="262.3" font-size="11.5">0</text><text x="647.8" y="267.5">)</text>
</g>
</svg>
</body></html>
